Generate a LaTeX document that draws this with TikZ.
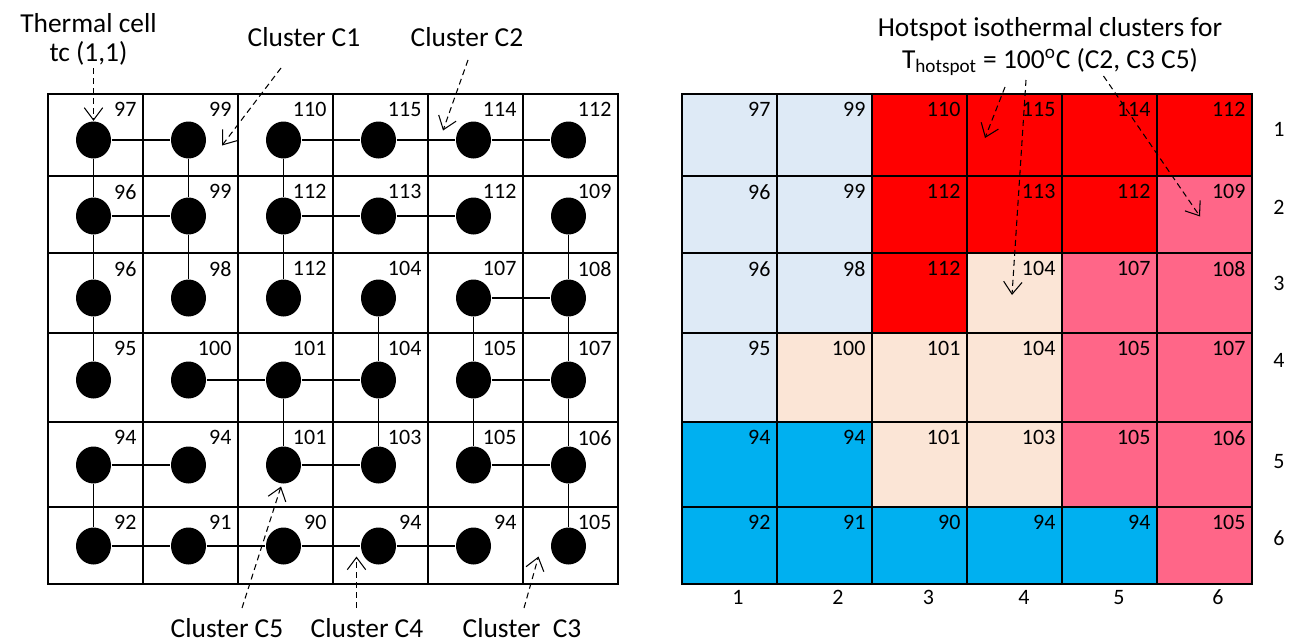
\documentclass[tikz,border=0pt]{standalone}
\usepackage{fontspec}
\setmainfont{Carlito}
\usetikzlibrary{arrows.meta,shapes.geometric}
\definecolor{coolblue}{HTML}{DEEAF6}
\definecolor{hotred}{HTML}{FF0000}
\definecolor{warmpink}{HTML}{FF6688}
\definecolor{mildpeach}{HTML}{FBE5D6}
\definecolor{coldcyan}{HTML}{00B0F0}

\begin{document}
\begin{tikzpicture}[x=1cm,y=1cm,line width=0.7pt,
  tcell/.style={ellipse,fill=black,inner sep=0pt,minimum width=.7cm,minimum height=.74cm},
  temp/.style={anchor=north east,inner sep=0pt,font=\fontsize{12.5}{14}\selectfont},
  idx/.style={inner sep=0pt,font=\fontsize{12.5}{14}\selectfont},
  lbl/.style={inner sep=0pt,font=\fontsize{15.6}{16.5}\selectfont},
  ptr/.style={dash pattern=on 3.4pt off 2.3pt,line width=.6pt,-{Straight Barb[length=7pt,width=10.5pt]}},
  link/.style={line width=.8pt}]
 \useasboundingbox (0,0) rectangle (26.04,12.86);
 \foreach \ytop/\ybot/\fills in {%
   10.98/9.34/{coolblue,coolblue,hotred,hotred,hotred,hotred},
   9.34/7.80/{coolblue,coolblue,hotred,hotred,hotred,warmpink},
   7.80/6.20/{coolblue,coolblue,hotred,mildpeach,warmpink,warmpink},
   6.20/4.42/{coolblue,mildpeach,mildpeach,mildpeach,warmpink,warmpink},
   4.42/2.72/{coldcyan,coldcyan,mildpeach,mildpeach,warmpink,warmpink},
   2.72/1.18/{coldcyan,coldcyan,coldcyan,coldcyan,coldcyan,warmpink}}{%
   \foreach \fc [count=\col] in \fills
     \fill[\fc] (11.74+1.9*\col,\ybot) rectangle (13.64+1.9*\col,\ytop);
 }
 \foreach \x in {2.86,4.76,6.66,8.56,10.46}{%
   \draw[line width=.8pt] (\x,1.18)--(\x,10.98);
   \draw (\x+12.68,1.18)--(\x+12.68,10.98);
 }
 \foreach \y in {9.34,7.80,6.20,4.42,2.72}{%
   \draw[line width=.8pt] (.96,\y)--(12.36,\y);
   \draw (13.64,\y)--(25.04,\y);
 }
 \draw[line width=1.5pt] (.96,1.18) rectangle (12.36,10.98);
 \draw[line width=1.2pt] (13.64,1.18) rectangle (25.04,10.98);
 \foreach \row/\ytop/\yc/\temps in {%
   1/10.98/10.06/{97,99,110,115,114,112},
   2/9.34/8.54/{96,99,112,113,112,109},
   3/7.80/6.90/{96,98,112,104,107,108},
   4/6.20/5.26/{95,100,101,104,105,107},
   5/4.42/3.56/{94,94,101,103,105,106},
   6/2.72/1.94/{92,91,90,94,94,105}}{%
   \foreach \val [count=\col] in \temps {%
     \node[tcell] (n\row\col) at (1.9*\col-.03,\yc) {};
     \node[temp] (t\row\col) at (.84+1.9*\col,\ytop-.16) {\val};
     \node[temp] (s\row\col) at (13.52+1.9*\col,\ytop-.16) {\val};
   }
 }
 \foreach \a/\b in {11/12,11/21,12/22,21/22,21/31,22/32,31/41,
   13/14,14/15,15/16,13/23,23/24,24/25,23/33,
   26/36,35/36,35/45,36/46,45/46,45/55,46/56,55/56,56/66,
   51/52,51/61,61/62,62/63,63/64,64/65,
   34/44,42/43,43/44,43/53,44/54,53/54}
   \draw[link] (n\a)--(n\b);
 \foreach \idx/\x in {1/14.76,2/16.76,3/18.57,4/20.48,5/22.38,6/24.36}
   \node[idx] (col\idx) at (\x,.91) {\idx};
 \foreach \idx/\y in {1/10.28,2/8.72,3/7.20,4/5.66,5/3.62,6/2.10}
   \node[idx] (row\idx) at (25.58,\y) {\idx};
 \node[lbl,align=center] (tclbl) at (1.77,12.07) {Thermal cell\\tc (1,1)};
 \node[lbl,anchor=base] (lblC1) at (6.08,11.94) {Cluster C1};
 \node[lbl,anchor=base] (lblC2) at (9.34,11.94) {Cluster C2};
 \node[lbl,anchor=base] (lblC5) at (4.54,.12) {Cluster C5};
 \node[lbl,anchor=base] (lblC4) at (7.34,.12) {Cluster C4};
 \node[lbl,anchor=base] (lblC3) at (10.44,.12) {Cluster\ \ C3};
 \node[lbl,anchor=base] (hot1) at (21.0,12.14) {Hotspot isothermal clusters for};
 \node[lbl,anchor=base] (hot2) at (21.0,11.50) {T\textsubscript{hotspot} = 100\textsuperscript{o}C (C2, C3 C5)};
 \coordinate (tcfrom) at (1.87,11.5);
 \coordinate (c1from) at (5.62,11.5);
 \coordinate (c1to) at (4.44,9.95);
 \coordinate (c2from) at (9.36,11.66);
 \coordinate (c2to) at (8.86,10.25);
 \coordinate (c5from) at (4.84,.7);
 \coordinate (c5to) at (5.62,3.13);
 \coordinate (c4from) at (7.13,.7);
 \coordinate (c4to) at (7.13,1.73);
 \coordinate (c3from) at (10.48,.7);
 \coordinate (c3to) at (10.77,1.73);
 \coordinate (hsfrom1) at (20.10,11.12);
 \coordinate (hsto1) at (19.70,10.10);
 \coordinate (hsfrom2) at (20.52,11.26);
 \coordinate (hsto2) at (20.24,6.96);
 \coordinate (hsfrom3) at (22.07,11.34);
 \coordinate (hsto3) at (24.0,8.53);
 \draw[ptr] (tcfrom)--(n11.north);
 \draw[ptr] (c1from)--(c1to);
 \draw[ptr] (c2from)--(c2to);
 \draw[ptr] (c5from)--(c5to);
 \draw[ptr] (c4from)--(c4to);
 \draw[ptr] (c3from)--(c3to);
 \draw[ptr] (hsfrom1)--(hsto1);
 \draw[ptr] (hsfrom2)--(hsto2);
 \draw[ptr] (hsfrom3)--(hsto3);
\end{tikzpicture}
\end{document}
